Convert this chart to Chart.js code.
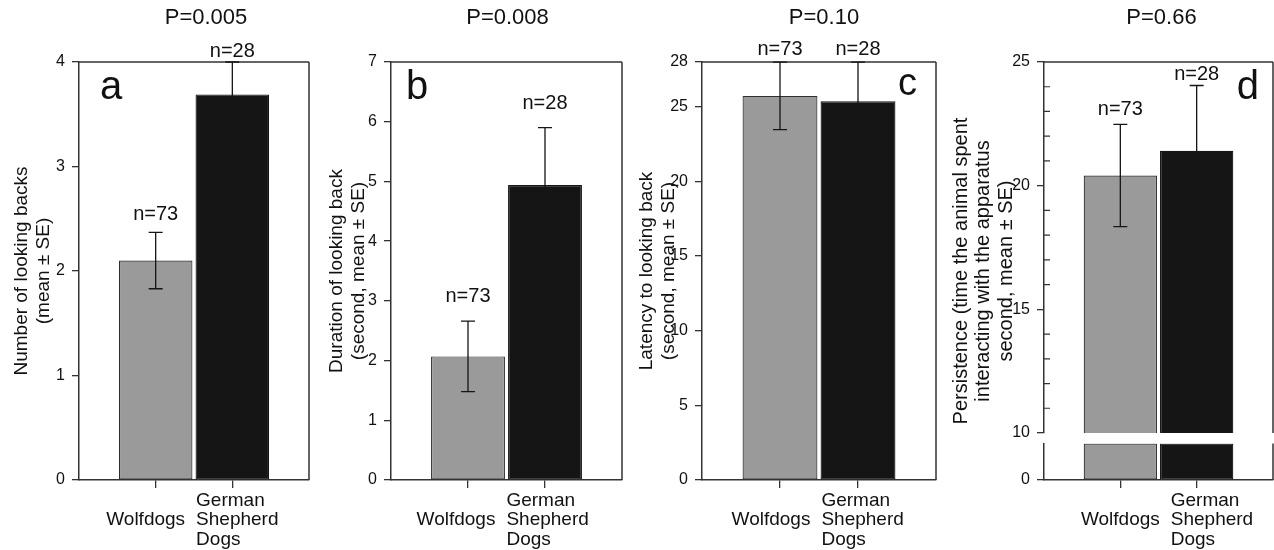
<!DOCTYPE html>
<html>
<head>
<meta charset="utf-8">
<title>Looking back: wolfdogs vs German Shepherd Dogs</title>
<script src="https://cdn.jsdelivr.net/npm/chart.js@4.4.1/dist/chart.umd.min.js"></script>
<style>
  body { margin: 0; background: #fff; }
  #figure { position: relative; width: 1274px; height: 550px; overflow: hidden; background: #fff; }
  #figure canvas { position: absolute; top: 0; }
</style>
</head>
<body>
<div id="figure">
  <canvas id="panelA" width="320" height="550" style="left:0px"></canvas>
  <canvas id="panelB" width="320" height="550" style="left:320px"></canvas>
  <canvas id="panelC" width="320" height="550" style="left:630px"></canvas>
  <canvas id="panelD" width="324" height="550" style="left:950px"></canvas>
</div>
<script>
// groups
var groups = [['Wolfdogs'], ['German', 'Shepherd', 'Dogs']];
var groupX = [1, 2];
var sampleSizes = ['n=73', 'n=28'];

var pLabels = ['P=0.005', 'P=0.008', 'P=0.10', 'P=0.66'];
var panelLetters = ['a', 'b', 'c', 'd'];

// means and SE
var lookBackNumber = [2.10, 3.69];
var lookBackNumberSE = [0.27, 0.31];
var lookBackDuration = [2.07, 4.94];
var lookBackDurationSE = [0.59, 0.96];
var lookBackLatency = [25.73, 25.37];
var lookBackLatencySE = [2.26, 2.62];
var persistence = [20.41, 21.41];
var persistenceSE = [2.07, 2.64];

// tick labels
var ticksA = [0, 1, 2, 3, 4];
var ticksB = [0, 1, 2, 3, 4, 5, 6, 7];
var ticksC = [0, 5, 10, 15, 20, 25, 28];
var ticksDUpper = [10, 15, 20, 25];
var ticksDMinor = [11, 12, 13, 14, 16, 17, 18, 19, 21, 22, 23, 24];
var ticksDLower = [0, 9];

var yTitleA = ['Number of looking backs', '(mean \u00b1 SE)'];
var yTitleB = ['Duration of looking back', '(second, mean \u00b1 SE)'];
var yTitleC = ['Latency to looking back', '(second, mean \u00b1 SE)'];
var yTitleD = ['Persistence (time the animal spent', 'interacting with the apparatus', 'second, mean \u00b1 SE)'];

var AXIS = '#333333';
var TEXT = '#111111';
var ERR = '#151515';
var FONT = "'Liberation Sans', Arial, Helvetica, sans-serif";
var barFill = ['#9a9a9a', '#151515'];
var barEdge = ['#2e2e2e', '#151515'];

Chart.defaults.font.family = FONT;
Chart.defaults.color = TEXT;

function points(values) {
  return values.map(function (v, i) { return { x: groupX[i], y: v }; });
}

function fixedTicks(list) {
  return function (scale) {
    scale.ticks = list.map(function (v) { return { value: v }; });
  };
}

function barSet(values, axisId) {
  return {
    data: points(values),
    yAxisID: axisId,
    backgroundColor: barFill,
    borderColor: barEdge,
    borderWidth: 1.2,
    borderSkipped: false,
    grouped: false,
    barPercentage: 0.96,
    categoryPercentage: 1
  };
}

function xAxis() {
  return {
    type: 'linear', min: 0, max: 3, offset: false,
    afterBuildTicks: fixedTicks(groupX),
    afterFit: function (s) { s.height = 70; },
    ticks: { display: false },
    grid: { offset: false, drawOnChartArea: false, tickLength: 8, color: AXIS, lineWidth: 1.3 },
    border: { color: AXIS, width: 1.5 }
  };
}

function yAxis(min, max, tickList, width) {
  return {
    type: 'linear', position: 'left', min: min, max: max,
    afterBuildTicks: fixedTicks(tickList),
    afterFit: function (s) { s.width = width; },
    ticks: { padding: 7, font: { size: 16 }, color: TEXT },
    grid: { drawOnChartArea: false, tickLength: 7, color: AXIS, lineWidth: 1.3 },
    border: { color: AXIS, width: 1.5 }
  };
}

function withTitle(axis, text, pad) {
  axis.title = {
    display: true, text: text, color: TEXT,
    font: { size: 19, lineHeight: 1.15 },
    padding: { top: pad, bottom: 0 }
  };
  return axis;
}

// frame, error bars, n labels, panel titles, group labels
var panelDecor = {
  id: 'panelDecor',
  afterDraw: function (chart, args, o) {
    var ctx = chart.ctx, area = chart.chartArea;
    var xs = chart.scales.x, ys = chart.scales.y;
    var bars = chart.getDatasetMeta(0).data;
    var values = chart.data.datasets[0].data;
    ctx.save();

    ctx.strokeStyle = AXIS;
    ctx.lineWidth = 1.5;
    ctx.beginPath();
    ctx.moveTo(area.left, area.top);
    ctx.lineTo(area.right, area.top);
    o.frame.forEach(function (id) {
      var s = chart.scales[id];
      ctx.moveTo(area.right, s.top);
      ctx.lineTo(area.right, s.bottom);
    });
    ctx.stroke();

    if (o.minor) {
      ctx.lineWidth = 1.2;
      ctx.beginPath();
      o.minor.forEach(function (v) {
        var py = ys.getPixelForValue(v);
        ctx.moveTo(area.left, py);
        ctx.lineTo(area.left + 6, py);
      });
      ctx.stroke();
    }

    ctx.strokeStyle = ERR;
    ctx.lineWidth = 1.3;
    ctx.fillStyle = TEXT;
    ctx.textAlign = 'center';
    ctx.textBaseline = 'middle';
    ctx.font = '20px ' + FONT;
    bars.forEach(function (bar, i) {
      var v = values[i].y, se = o.se[i];
      var hi = ys.getPixelForValue(v + se), lo = ys.getPixelForValue(v - se);
      ctx.beginPath();
      ctx.moveTo(bar.x, hi); ctx.lineTo(bar.x, lo);
      ctx.moveTo(bar.x - 7, hi); ctx.lineTo(bar.x + 7, hi);
      ctx.moveTo(bar.x - 7, lo); ctx.lineTo(bar.x + 7, lo);
      ctx.stroke();
      ctx.fillText(sampleSizes[i], bar.x, hi - o.nGap[i]);
    });

    ctx.font = '19px ' + FONT;
    function drawLines(lines, x, align) {
      ctx.textAlign = align;
      lines.forEach(function (line, j) {
        ctx.fillText(line, x, 520 + (j - (lines.length - 1) / 2) * 19.5);
      });
    }
    var wolfX = xs.getPixelForValue(groupX[0]) + o.labelDx;
    drawLines(groups[0], wolfX, 'center');
    drawLines(groups[1], wolfX + ctx.measureText(groups[0][0]).width / 2 + 11, 'left');

    ctx.font = '22px ' + FONT;
    ctx.textAlign = 'center';
    ctx.fillText(o.title, (area.left + area.right) / 2 + o.titleDx, 18);

    ctx.font = o.letterSize + 'px ' + FONT;
    ctx.textBaseline = 'alphabetic';
    ctx.textAlign = o.letterSide;
    ctx.fillText(o.letter, o.letterSide === 'left' ? area.left + o.letterDx : area.right - o.letterDx, o.letterY);

    if (o.yTitle) {
      ctx.font = '20px ' + FONT;
      ctx.textAlign = 'center';
      ctx.textBaseline = 'middle';
      ctx.translate(o.yTitleX, (area.top + area.bottom) / 2);
      ctx.rotate(-Math.PI / 2);
      o.yTitle.forEach(function (line, j) { ctx.fillText(line, 0, j * 22.5); });
    }
    ctx.restore();
  }
};

function makePanel(id, datasets, scales, padRight, decor) {
  return new Chart(document.getElementById(id), {
    type: 'bar',
    data: { datasets: datasets },
    options: {
      responsive: false,
      animation: false,
      layout: { padding: { left: 0, top: 62, right: padRight, bottom: 0 } },
      scales: scales,
      plugins: { legend: { display: false }, tooltip: { enabled: false }, panelDecor: decor }
    },
    plugins: [panelDecor]
  });
}

makePanel('panelA', [barSet(lookBackNumber, 'y')],
  { x: xAxis(), y: withTitle(yAxis(0, 4, ticksA, 79), yTitleA, 11) }, 11,
  { title: pLabels[0], titleDx: 12, letter: panelLetters[0], letterSide: 'left', letterDx: 21, letterY: 99, letterSize: 40,
    se: lookBackNumberSE, nGap: [18, 11], labelDx: -10, frame: ['y'] });

makePanel('panelB', [barSet(lookBackDuration, 'y')],
  { x: xAxis(), y: withTitle(yAxis(0, 7, ticksB, 71), yTitleB, 6) }, 18,
  { title: pLabels[1], titleDx: 1, letter: panelLetters[1], letterSide: 'left', letterDx: 15, letterY: 99, letterSize: 40,
    se: lookBackDurationSE, nGap: [25, 24], labelDx: -12, frame: ['y'] });

makePanel('panelC', [barSet(lookBackLatency, 'y')],
  { x: xAxis(), y: withTitle(yAxis(0, 28, ticksC, 72), yTitleC, 6) }, 14,
  { title: pLabels[2], titleDx: 5, letter: panelLetters[2], letterSide: 'right', letterDx: 19, letterY: 95, letterSize: 38,
    se: lookBackLatencySE, nGap: [13, 13], labelDx: -9, frame: ['y'] });

// panel d: broken axis, two stacked y scales with a blank spacer between
var dLowerTop = ticksDLower[ticksDLower.length - 1];
var yLower = yAxis(0, dLowerTop, ticksDLower, 94);
yLower.stack = 'left'; yLower.stackWeight = 36.4; yLower.weight = 1;
yLower.ticks = { padding: 7, font: { size: 16 }, color: TEXT,
  callback: function (v, i) { return i === 0 ? String(v) : ''; } };
var yUpper = yAxis(10, 25, ticksDUpper, 94);
yUpper.stack = 'left'; yUpper.stackWeight = 371; yUpper.weight = 3;

makePanel('panelD',
  [barSet(persistence, 'y'),
   barSet(persistence.map(function (v) { return Math.min(v, dLowerTop); }), 'y0')],
  {
    x: xAxis(),
    y0: yLower,
    yGap: {
      type: 'linear', position: 'left', min: 0, max: 1,
      stack: 'left', stackWeight: 10.6, weight: 2,
      afterFit: function (s) { s.width = 94; },
      ticks: { display: false }, grid: { display: false }, border: { display: false }
    },
    y: yUpper
  }, 1,
  { title: pLabels[3], titleDx: 3, letter: panelLetters[3], letterSide: 'right', letterDx: 14, letterY: 99, letterSize: 40,
    se: persistenceSE, nGap: [15, 11], labelDx: 0, frame: ['y0', 'y'],
    minor: ticksDMinor, yTitle: yTitleD, yTitleX: 11 });
</script>
</body>
</html>
